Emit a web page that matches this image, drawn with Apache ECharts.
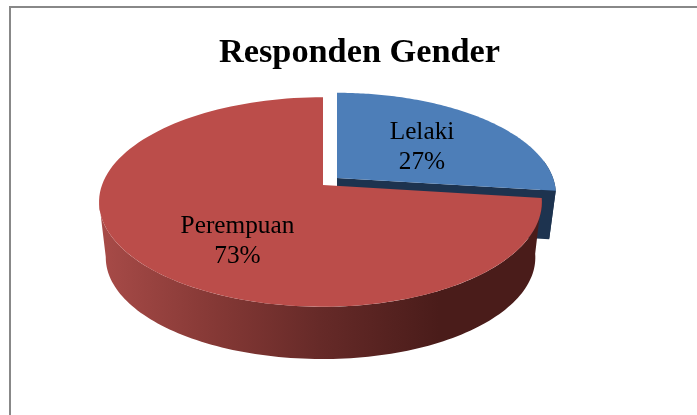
<!DOCTYPE html>
<html><head><meta charset="utf-8">
<style>html,body{margin:0;padding:0;background:#fff}#c{width:697px;height:415px}</style>
<script src="https://cdn.jsdelivr.net/npm/echarts@6/dist/echarts.min.js"></script>
</head><body><div id="c"></div>
<script>
const titleText = 'Responden Gender';
const categories = ['Lelaki', 'Perempuan'];
const values = [27, 73];

// Drawing style and projection of the tilted pie
const topColors = ['#4D7EB8', '#BB4D4A'];
const sideColors = ['#1D334F', null];
const apex = [[337, 178], [323, 185]];
const depths = [49, 56];
const radiiY = [99, 102];
const labelCentre = [[422, 147], [237.5, 241]];
const rxRight = 216, rxLeft = 221, persp = 0.162;
const baseScale = 0.97;

const total = values.reduce((a, b) => a + b, 0);
const spans = [];
values.reduce((acc, v) => { spans.push([acc, acc + v / total * 2 * Math.PI]); return acc + v / total * 2 * Math.PI; }, 0);

function project(i, th, base) {
  const u = Math.sin(th), v = Math.cos(th), w = 1 + persp * v;
  const s = base ? baseScale : 1;
  const rx = (u > 0 ? rxRight : rxLeft) * s;
  return [apex[i][0] + rx * u / w, apex[i][1] + (base ? depths[i] : 0) - radiiY[i] * s * v / w];
}
function arc(i, a, b, base) {
  const n = 120, pts = [];
  for (let k = 0; k <= n; k++) pts.push(project(i, a + (b - a) * k / n, base));
  return pts;
}
function renderItem(params) {
  const i = params.dataIndex, [a, b] = spans[i];
  const children = [];
  const rad = d => d * Math.PI / 180;
  if (sideColors[i]) {
    // the cut face and the part of the rim that turns toward the viewer
    const rimStart = rad(80);
    children.push({ type: 'polygon', shape: { points: [...arc(i, rimStart, b, false), ...arc(i, b, rimStart, true)] }, style: { fill: sideColors[i] } });
    children.push({ type: 'polygon', shape: { points: [apex[i], project(i, b, false), project(i, b, true), [apex[i][0], apex[i][1] + depths[i]]] }, style: { fill: sideColors[i] } });
  } else {
    // rim runs up to the silhouette point of the tilted ellipse
    const end = Math.min(b, rad(261));
    children.push({ type: 'polygon', shape: { points: [...arc(i, a, end, false), ...arc(i, end, a, true)] },
      style: { fill: new echarts.graphic.LinearGradient(99, 0, 540, 0, [
        { offset: 0, color: '#A84B48' }, { offset: 0.27, color: '#843835' },
        { offset: 0.5, color: '#662A28' }, { offset: 0.77, color: '#4A1C1A' }, { offset: 1, color: '#4A1C1A' }], true) } });
  }
  children.push({ type: 'polygon', shape: { points: [apex[i], ...arc(i, a, b, false)] }, style: { fill: topColors[i] } });
  children.push({ type: 'text', style: {
    x: labelCentre[i][0], y: labelCentre[i][1], text: categories[i] + '\n' + values[i] + '%',
    fill: '#000', align: 'center', verticalAlign: 'middle',
    font: '25.3px "Liberation Serif"', lineHeight: 30 } });
  return { type: 'group', children };
}
const chart = echarts.init(document.getElementById('c'), null, { renderer: 'canvas' });
chart.setOption({
  animation: false,
  backgroundColor: '#fff',
  title: { text: titleText, left: 354.5, top: 31, textAlign: 'center',
    textStyle: { fontFamily: 'Liberation Serif', fontWeight: 'bold', fontSize: 34.3, color: '#000' } },
  graphic: [
    { type: 'rect', shape: { x: 9, y: 6, width: 688, height: 2 }, style: { fill: '#888' }, silent: true },
    { type: 'rect', shape: { x: 9, y: 6, width: 2, height: 409 }, style: { fill: '#888' }, silent: true }
  ],
  series: [{ type: 'custom', coordinateSystem: 'none', renderItem,
    data: values.map((v, i) => ({ name: categories[i], value: v })) }]
});
</script></body></html>
